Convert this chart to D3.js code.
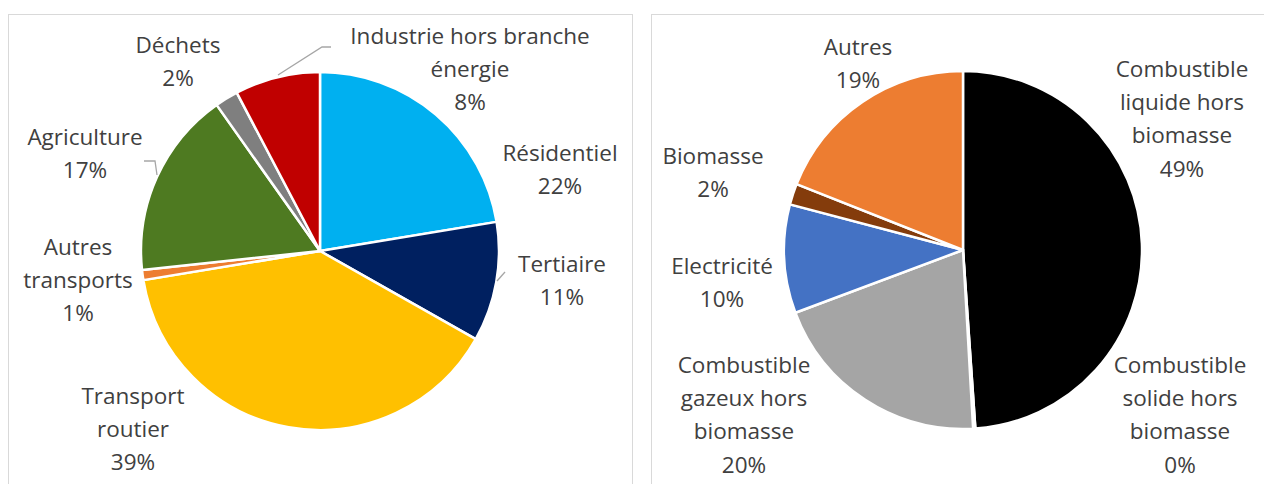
<!DOCTYPE html>
<html>
<head>
<meta charset="utf-8">
<script src="https://cdn.jsdelivr.net/npm/d3@7"></script>
<style>
  body { margin: 0; background: #fff; }
  text { font-family: "Open Sans", Lato, sans-serif; font-size: 22.5px; fill: #404040; }
</style>
</head>
<body>
<svg width="1264" height="484"></svg>
<script>
// secteurs (camembert de gauche)
var secteurs = ["Résidentiel", "Tertiaire", "Transport routier", "Autres transports", "Agriculture", "Déchets", "Industrie hors branche énergie"];
var partsSecteurs = [22.4, 10.8, 39.2, 0.9, 16.9, 2.1, 7.7];
var couleursSecteurs = ["#00b0f0", "#002060", "#ffc000", "#ed7d31", "#4e7a21", "#7f7f7f", "#c00000"];

// energies (camembert de droite)
var energies = ["Combustible liquide hors biomasse", "Combustible solide hors biomasse", "Combustible gazeux hors biomasse", "Electricité", "Biomasse", "Autres"];
var partsEnergies = [48.9, 0.2, 20.2, 9.8, 1.9, 19.0];
var couleursEnergies = ["#000000", "#3a3a3a", "#a5a5a5", "#4472c4", "#843c0c", "#ed7d31"];

// lignes des etiquettes + position du centre
var etiquettesSecteurs = [
  {lignes: ["Résidentiel"], x: 560, y: 153},
  {lignes: ["Tertiaire"], x: 562, y: 264},
  {lignes: ["Transport", "routier"], x: 133, y: 396},
  {lignes: ["Autres", "transports"], x: 78, y: 247},
  {lignes: ["Agriculture"], x: 85, y: 137},
  {lignes: ["Déchets"], x: 178, y: 45},
  {lignes: ["Industrie hors branche", "énergie"], x: 470, y: 36}
];
var etiquettesEnergies = [
  {lignes: ["Combustible", "liquide hors", "biomasse"], x: 1182, y: 69},
  {lignes: ["Combustible", "solide hors", "biomasse"], x: 1180, y: 365},
  {lignes: ["Combustible", "gazeux hors", "biomasse"], x: 744, y: 365},
  {lignes: ["Electricité"], x: 722, y: 266},
  {lignes: ["Biomasse"], x: 713, y: 156},
  {lignes: ["Autres"], x: 858, y: 47}
];

var svg = d3.select("svg");

// cadres des deux graphiques
svg.append("rect").attr("x", 8.5).attr("y", 14.5).attr("width", 624).attr("height", 480)
  .attr("fill", "none").attr("stroke", "#d9d9d9").attr("stroke-width", 1);
svg.append("rect").attr("x", 651.5).attr("y", 14.5).attr("width", 640).attr("height", 480)
  .attr("fill", "none").attr("stroke", "#d9d9d9").attr("stroke-width", 1);

var pie = d3.pie().sort(null).value(function(d) { return d; });
var arc = d3.arc().innerRadius(0).outerRadius(179);

function camembert(cx, cy, valeurs, couleurs, etiquettes) {
  var g = svg.append("g").attr("transform", "translate(" + cx + "," + cy + ")");
  g.selectAll("path")
    .data(pie(valeurs))
    .enter().append("path")
    .attr("d", arc)
    .attr("fill", function(d, i) { return couleurs[i]; })
    .attr("stroke", "#fff")
    .attr("stroke-width", 2.5)
    .attr("stroke-linejoin", "round");

  var txt = svg.selectAll(null)
    .data(etiquettes)
    .enter().append("text")
    .attr("text-anchor", "middle")
    .attr("x", function(d) { return d.x; })
    .attr("y", function(d) { return d.y; });
  txt.each(function(d, i) {
    var t = d3.select(this);
    var lignes = d.lignes.concat([Math.round(valeurs[i]) + "%"]);
    lignes.forEach(function(l, j) {
      t.append("tspan").attr("x", d.x).attr("y", d.y + j * 33.3).attr("dy", "0.35em").text(l);
    });
  });
}

camembert(320, 251, partsSecteurs, couleursSecteurs, etiquettesSecteurs);
camembert(963, 250, partsEnergies, couleursEnergies, etiquettesEnergies);

// traits de rappel
var rappel = d3.line();
var traits = [
  [[331, 47], [322, 47], [278, 75]],
  [[497, 281], [505, 272]],
  [[144, 161], [155, 161], [157, 175]]
];
svg.selectAll(".rappel")
  .data(traits)
  .enter().append("path")
  .attr("class", "rappel")
  .attr("d", rappel)
  .attr("fill", "none")
  .attr("stroke", "#a6a6a6")
  .attr("stroke-width", 1.3);
</script>
</body>
</html>
